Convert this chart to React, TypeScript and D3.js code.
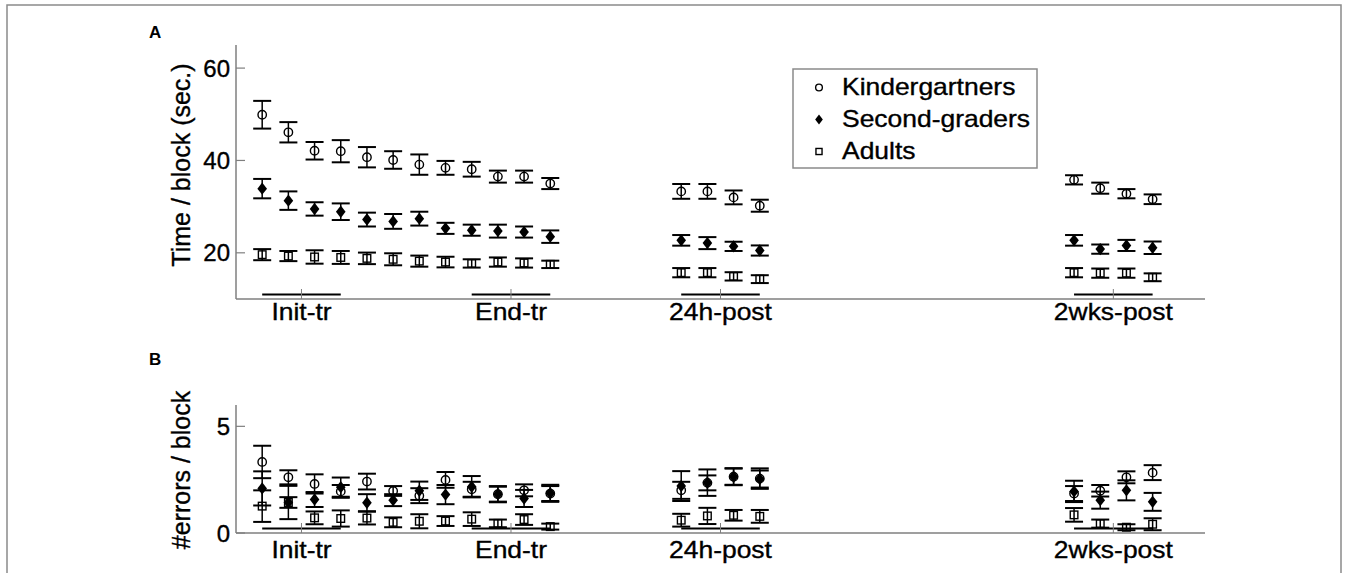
import React, { useEffect, useRef } from 'react'
import * as d3 from 'd3'

// block positions on the x axis (training blocks 1-12, then the two post tests)
const blockPos = [1, 2, 3, 4, 5, 6, 7, 8, 9, 10, 11, 12, 17, 18, 19, 20, 32, 33, 34, 35]

const groupLabels = ['Init-tr', 'End-tr', '24h-post', '2wks-post']
const groupSpans = [[1, 4], [9, 12], [17, 20], [32, 35]]

// panel A: time per block (sec.)
const kTime = [49.9, 46.1, 42.1, 42.0, 40.7, 40.1, 39.1, 38.4, 38.1, 36.5, 36.5, 35.0, 33.3, 33.3, 32.0, 30.2, 35.8, 34.0, 32.8, 31.6]
const kTimeSe = [3.0, 2.2, 1.9, 2.4, 2.2, 1.9, 2.2, 1.5, 1.6, 1.3, 1.3, 1.2, 1.6, 1.6, 1.5, 1.3, 1.0, 1.2, 1.0, 1.05]
const sTime = [33.9, 31.3, 29.5, 28.9, 27.2, 26.8, 27.4, 25.3, 24.9, 24.7, 24.5, 23.5, 22.7, 22.1, 21.4, 20.5, 22.7, 20.8, 21.6, 21.1]
const sTimeSe = [2.1, 2.0, 1.45, 1.8, 1.5, 1.6, 1.5, 1.2, 1.2, 1.4, 1.2, 1.35, 1.15, 1.3, 1.0, 1.1, 1.15, 1.0, 1.2, 1.35]
const aTime = [19.6, 19.3, 19.1, 19.0, 18.8, 18.6, 18.2, 18.0, 17.7, 18.0, 17.8, 17.5, 15.7, 15.7, 14.9, 14.3, 15.7, 15.6, 15.6, 14.7]
const aTimeSe = [1.2, 1.1, 1.45, 1.4, 1.25, 1.3, 1.2, 1.15, 0.9, 1.0, 1.0, 0.8, 1.0, 1.0, 0.9, 0.85, 1.0, 1.0, 1.0, 0.85]

// panel B: errors per block
const kErr = [3.33, 2.61, 2.30, 1.95, 2.41, 1.97, 1.75, 2.49, 2.05, 1.82, 2.0, 1.85, 2.0, 2.35, 2.64, 2.55, 1.85, 1.98, 2.61, 2.83]
const kErrSe = [0.76, 0.33, 0.45, 0.3, 0.37, 0.23, 0.35, 0.37, 0.35, 0.35, 0.28, 0.35, 0.4, 0.35, 0.38, 0.48, 0.35, 0.27, 0.28, 0.35]
const sErr = [2.09, 1.43, 1.57, 2.15, 1.42, 1.54, 1.98, 1.8, 2.17, 1.82, 1.62, 1.86, 2.2, 2.36, 2.64, 2.53, 1.95, 1.54, 2.0, 1.46]
const sErrSe = [0.8, 0.25, 0.35, 0.45, 0.4, 0.28, 0.43, 0.45, 0.5, 0.38, 0.4, 0.4, 0.7, 0.62, 0.4, 0.4, 0.5, 0.4, 0.47, 0.42]
const aErr = [1.26, 1.43, 0.71, 0.68, 0.7, 0.5, 0.55, 0.56, 0.65, 0.45, 0.63, 0.3, 0.6, 0.8, 0.83, 0.78, 0.85, 0.44, 0.27, 0.41]
const aErrSe = [0.74, 0.78, 0.3, 0.38, 0.3, 0.23, 0.33, 0.23, 0.32, 0.18, 0.25, 0.14, 0.3, 0.38, 0.25, 0.3, 0.32, 0.19, 0.14, 0.28]

const seriesNames = ['Kindergartners', 'Second-graders', 'Adults']
const seriesShapes = ['circle', 'diamond', 'square']

const FONT = 'Liberation Sans, Arial, Helvetica, sans-serif'
const AXIS_GRAY = '#7f7f7f'
const STRETCH = 1.15 // the original figure is a bit wider than tall

const drawMarker = (g: any, shape: string, x: number, y: number, s = 1) => {
  if (shape === 'circle') {
    g.append('circle').attr('cx', x).attr('cy', y).attr('r', 4.2 * s)
      .attr('fill', 'none').attr('stroke', 'black').attr('stroke-width', 1.4)
  } else if (shape === 'diamond') {
    const w = 4.8 * s, h = 6.2 * s
    g.append('path')
      .attr('d', `M${x},${y - h}L${x + w},${y}L${x},${y + h}L${x - w},${y}Z`)
      .attr('fill', 'black')
  } else {
    const a = 3.8 * s
    g.append('rect').attr('x', x - a).attr('y', y - a).attr('width', 2 * a).attr('height', 2 * a)
      .attr('fill', 'none').attr('stroke', 'black').attr('stroke-width', 1.4)
  }
}

const stretchedText = (g: any, x: number, y: number, txt: string, size: number, anchor = 'middle') => {
  g.append('text')
    .attr('transform', `translate(${x},${y}) scale(${STRETCH},1)`)
    .attr('text-anchor', anchor)
    .style('font-family', FONT)
    .style('font-size', size + 'px')
    .attr('fill', 'black')
    .attr('stroke', 'black').attr('stroke-width', 0.35)
    .text(txt)
}

export default function App() {
  const ref = useRef<SVGSVGElement>(null)

  useEffect(() => {
    const svg = d3.select(ref.current)
    svg.selectAll('*').remove()

    // outer frame
    svg.append('rect').attr('x', 7).attr('y', 5).attr('width', 1334).attr('height', 620)
      .attr('fill', 'white').attr('stroke', '#8a8a8a').attr('stroke-width', 1.5)

    const x = d3.scaleLinear().domain([0, 37]).range([236, 1205])

    const panel = (
      opts: {
        y: d3.ScaleLinear<number, number>, ticks: number[], label: string, letter: string,
        letterY: number, labelY: number, tickLabelY: number,
        means: number[][], ses: number[][]
      }
    ) => {
      const { y } = opts
      const g = svg.append('g')
      const [y0, y1] = y.range()

      // axes
      g.append('line').attr('x1', x(0)).attr('x2', x(0)).attr('y1', y0).attr('y2', y1)
        .attr('stroke', AXIS_GRAY).attr('stroke-width', 1.5)
      g.append('line').attr('x1', x(0)).attr('x2', x(37)).attr('y1', y0).attr('y2', y0)
        .attr('stroke', AXIS_GRAY).attr('stroke-width', 1.5)

      opts.ticks.forEach(t => {
        g.append('line').attr('x1', x(0)).attr('x2', x(0) + 9).attr('y1', y(t)).attr('y2', y(t))
          .attr('stroke', AXIS_GRAY).attr('stroke-width', 1.2)
        g.append('text').attr('x', x(0) - 6).attr('y', y(t)).attr('dy', '0.36em')
          .attr('text-anchor', 'end').style('font-family', FONT).style('font-size', '24px')
          .attr('stroke', 'black').attr('stroke-width', 0.35)
          .text(t)
      })

      // group underlines, ticks and labels
      groupSpans.forEach((sp, i) => {
        const mid = (sp[0] + sp[1]) / 2
        g.append('line').attr('x1', x(sp[0])).attr('x2', x(sp[1])).attr('y1', y0 - 4.5).attr('y2', y0 - 4.5)
          .attr('stroke', 'black').attr('stroke-width', 1.8)
        g.append('line').attr('x1', x(mid)).attr('x2', x(mid)).attr('y1', y0).attr('y2', y0 - 10)
          .attr('stroke', AXIS_GRAY).attr('stroke-width', 1)
        stretchedText(g, x(mid), opts.tickLabelY, groupLabels[i], 23)
      })

      // y label
      g.append('text')
        .attr('transform', `translate(190,${opts.labelY}) rotate(-90)`)
        .attr('text-anchor', 'middle')
        .style('font-family', FONT).style('font-size', '25px')
        .attr('stroke', 'black').attr('stroke-width', 0.35)
        .text(opts.label)

      g.append('text').attr('x', 149).attr('y', opts.letterY)
        .style('font-family', FONT).style('font-size', '17px').style('font-weight', 'bold')
        .text(opts.letter)

      // error bars then markers, one series at a time
      opts.means.forEach((vals, si) => {
        const se = opts.ses[si]
        vals.forEach((v, i) => {
          const cx = x(blockPos[i])
          const top = y(v + se[i]), bot = y(v - se[i])
          g.append('line').attr('x1', cx).attr('x2', cx).attr('y1', top).attr('y2', bot)
            .attr('stroke', 'black').attr('stroke-width', 1.5)
          ;[top, bot].forEach(yy => {
            g.append('line').attr('x1', cx - 9).attr('x2', cx + 9).attr('y1', yy).attr('y2', yy)
              .attr('stroke', 'black').attr('stroke-width', 2)
          })
          drawMarker(g, seriesShapes[si], cx, y(v))
        })
      })
    }

    panel({
      y: d3.scaleLinear().domain([10, 65]).range([299, 45]),
      ticks: [20, 40, 60],
      label: 'Time / block (sec.)',
      letter: 'A', letterY: 38, labelY: 165, tickLabelY: 320,
      means: [kTime, sTime, aTime], ses: [kTimeSe, sTimeSe, aTimeSe]
    })

    panel({
      y: d3.scaleLinear().domain([0, 6]).range([533, 405]),
      ticks: [0, 5],
      label: '#errors / block',
      letter: 'B', letterY: 365, labelY: 470, tickLabelY: 558,
      means: [kErr, sErr, aErr], ses: [kErrSe, sErrSe, aErrSe]
    })

    // legend
    const lg = svg.append('g')
    lg.append('rect').attr('x', 793).attr('y', 69).attr('width', 244).attr('height', 99)
      .attr('fill', 'white').attr('stroke', '#8a8a8a').attr('stroke-width', 1.5)
    seriesNames.forEach((name, i) => {
      const base = 94.5 + i * 32
      drawMarker(lg, seriesShapes[i], 819, base - 7, 0.8)
      stretchedText(lg, 842, base, name, 23, 'start')
    })
  }, [])

  return (
    <svg ref={ref} width={1349} height={573}
      style={{ position: 'absolute', left: 0, top: 0, background: 'white' }} />
  )
}
